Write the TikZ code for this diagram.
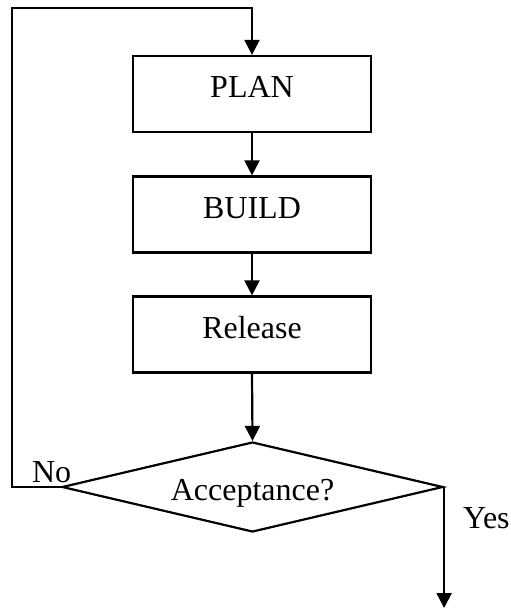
\documentclass[tikz,border=0pt]{standalone}
\usepackage{fontspec}
\setmainfont{Liberation Serif}
\usetikzlibrary{arrows.meta,shapes.geometric}
\begin{document}
\begin{tikzpicture}[x=1bp,y=-1bp,
  line width=2.2bp,
  txt/.style={font=\fontsize{32bp}{38bp}\selectfont, inner sep=0pt},
  stepbox/.style={txt, draw, rectangle, minimum width=238bp, minimum height=76bp,
                  text height=22bp, text depth=15bp},
  decision/.style={txt, draw, diamond, aspect=4.23, minimum width=381bp, minimum height=90bp,
                   text height=26bp, text depth=0bp},
  flow/.style={-{Triangle[length=15bp,width=15bp]}}
]
\useasboundingbox (0,0) rectangle (511,610);

% process steps
\node[stepbox] (plan)    at (252,94)  {PLAN};
\node[stepbox] (build)   at (252,214.5) {BUILD};
\node[stepbox] (release) at (252,334.5) {Release};

% decision
\node[decision] (accept) at (252.5,487) {Acceptance?};

% branch labels
\node[txt, anchor=base west] (nolbl)  at (31,482)  {No};
\node[txt, anchor=base west] (yeslbl) at (462,528) {Yes};

% loose ends of the loop and the exit
\coordinate (loopbl) at (12,487);
\coordinate (looptl) at (12,8);
\coordinate (looptr) at (252,8);
\coordinate (exit)   at (443,608);

% main flow
\draw[flow] (plan.south) -- (build.north);
\draw[flow] (build.south) -- (release.north);
\draw[flow] (release.south) -- (accept.north);

% rejection loops back to planning
\draw[flow] (accept.west) -- (loopbl) -- (looptl) -- (looptr) -- (plan.north);

% acceptance leaves the cycle
\draw[flow] (accept.east) -- (accept.east |- exit);
\end{tikzpicture}
\end{document}
